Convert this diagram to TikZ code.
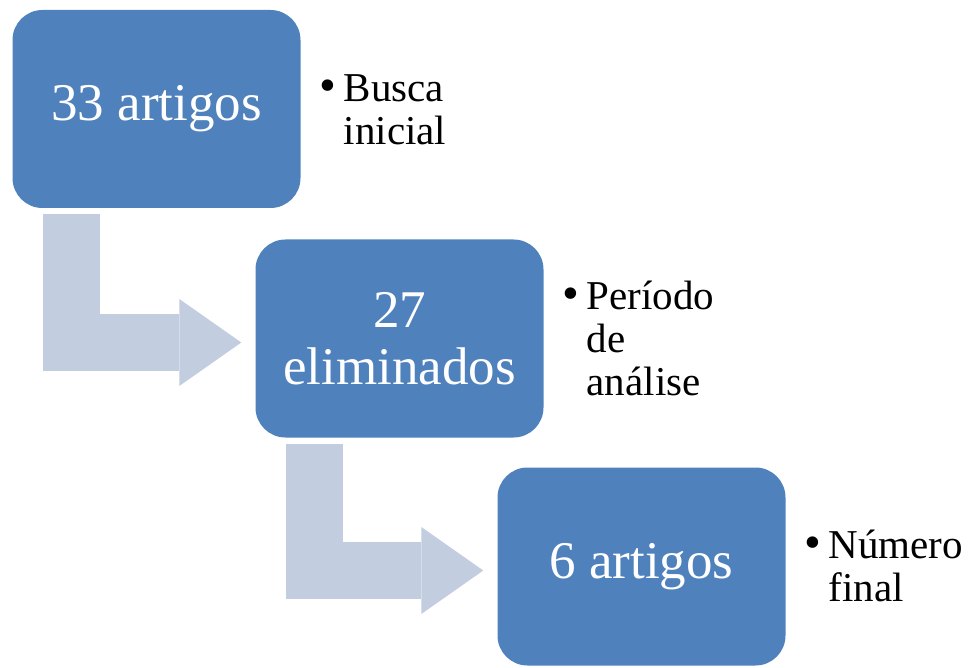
\documentclass[tikz,border=0pt]{standalone}
\usepackage{fontspec}
\setmainfont{Liberation Serif}
\usetikzlibrary{arrows.meta,positioning}

\definecolor{boxblue}{RGB}{79,129,189}
\definecolor{flowgray}{RGB}{194,205,224}
\newcommand{\dotmark}{{\fontsize{48}{43}\selectfont\textbullet}}

\begin{document}
\begin{tikzpicture}[
    x=1pt, y=-1pt,
    stage/.style={rectangle, fill=boxblue, text=white, align=center, rounded corners=30pt, minimum width=288pt, minimum height=198pt, inner sep=0pt, font=\fontsize{53}{57}\selectfont},
    note/.style={anchor=west, inner sep=0pt, yshift=-5pt, font=\fontsize{41}{43}\selectfont},
    flow/.style={draw=flowgray, line width=57pt, -{Triangle[length=62pt, width=87pt, line width=0pt]}}
]
\useasboundingbox (0,0) rectangle (974,668);

% Stages
\node[stage] (start) at (156.5,109) {33 artigos};
\node[stage] (removed) at (399.5,338.5) {27\\eliminados};
\node[stage] (final) at (641.5,566.5) {6 artigos};

% Bent arrows
\draw[flow] ([xshift=59.5pt, yshift=-6pt]start.south west) |- ([xshift=-14pt, yshift=-4pt]removed.west);
\draw[flow] ([xshift=59.5pt, yshift=-6pt]removed.south west) |- ([xshift=-14pt, yshift=-4pt]final.west);

% Bullet notes
\node[note, right=19pt of start] (search) {\begin{tabular}{@{}l@{\hspace{7pt}}l@{}}\dotmark & Busca\\ & inicial\end{tabular}};
\node[note, right=19pt of removed] (period) {\begin{tabular}{@{}l@{\hspace{7pt}}l@{}}\dotmark & Período\\ & de\\ & análise\end{tabular}};
\node[note, right=19pt of final] (count) {\begin{tabular}{@{}l@{\hspace{7pt}}l@{}}\dotmark & Número\\ & final\end{tabular}};

\end{tikzpicture}
\end{document}
